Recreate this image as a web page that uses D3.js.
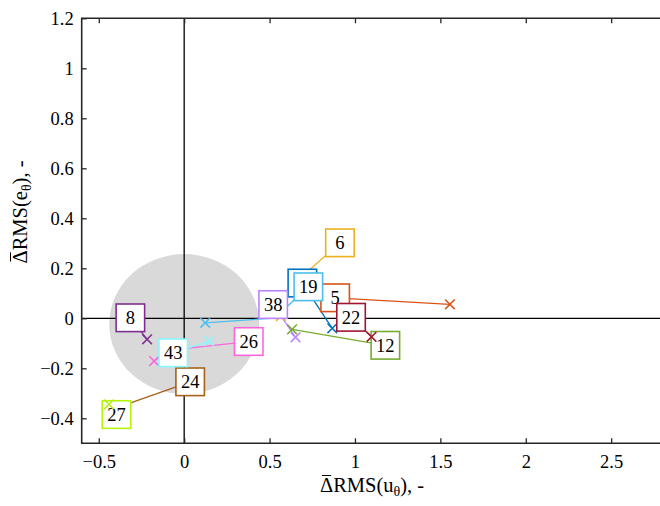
<!DOCTYPE html>
<html>
<head>
<meta charset="utf-8">
<script src="https://cdn.jsdelivr.net/npm/d3@7/dist/d3.min.js"></script>
<style>
  html, body { margin: 0; padding: 0; background: #fff; }
  svg { display: block; }
  svg text { font-family: "Liberation Serif", "DejaVu Serif", "Noto Serif", serif !important; fill: #000; }
</style>
</head>
<body>
<svg id="chart" width="660" height="506"></svg>
<script>
// Case numbers, drawn in ascending order
const ids = ["3", "5", "6", "8", "12", "19", "22", "24", "26", "27", "38", "43"];
const colors = ["#0072BD", "#D95319", "#EDB120", "#7E2F8E", "#77AC30", "#4DBEEE",
                "#A2142F", "#A6611A", "#FF66DD", "#B5F20D", "#B983FF", "#88F7FF"];

// Point positions (ΔRMS(uθ), ΔRMS(eθ))
const pointX = [0.867, 1.556, 0.566, -0.217, 0.632, 0.123, 1.097, -0.400, -0.176, -0.441, 0.652, 0.146];
const pointY = [-0.040, 0.056, 0.009, -0.084, -0.044, -0.018, -0.074, -0.359, -0.171, -0.344, -0.076, -0.091];

// Label anchor positions in data units
const labelX = [0.692, 0.884, 0.912, -0.315, 1.178, 0.727, 0.977, 0.035, 0.378, -0.396, 0.521, -0.064];
const labelY = [0.141, 0.082, 0.302, 0.002, -0.108, 0.126, 0.004, -0.254, -0.093, -0.385, 0.055, -0.138];

// Optional bend of a leader line (null = straight)
const bendX = [null, null, 0.607, null, null, 0.531, null, null, -0.084, null, null, null];
const bendY = [null, null, 0.117, null, null, 0.001, null, null, -0.127, null, null, null];

// Shaded region around the origin
const regionCenter = [0, -0.023];
const regionRadius = [0.439, 0.28];

// Axis ticks
const xTicks = [-0.5, 0, 0.5, 1, 1.5, 2, 2.5];
const yTicks = [-0.4, -0.2, 0, 0.2, 0.4, 0.6, 0.8, 1, 1.2];

const serif = "'Liberation Serif', 'DejaVu Serif', 'Noto Serif', serif";
const svg = d3.select("#chart");
const pLeft = 81.7, pRight = 662.4, pTop = 18.3, pBottom = 443.3;

const x = d3.scaleLinear().domain([-0.6, 2.8]).range([pLeft, pRight]);
const y = d3.scaleLinear().domain([-0.5, 1.2]).range([pBottom, pTop]);
const fmt = d3.format("~g");

const plot = svg.append("g");

// shaded ellipse
plot.append("ellipse")
  .attr("cx", x(regionCenter[0]))
  .attr("cy", y(regionCenter[1]))
  .attr("rx", x(regionRadius[0]) - x(0))
  .attr("ry", y(0) - y(regionRadius[1]))
  .attr("fill", "#d9d9d9");

// zero lines
plot.append("line")
  .attr("x1", x(0)).attr("x2", x(0)).attr("y1", pTop).attr("y2", pBottom)
  .attr("stroke", "#000").attr("stroke-width", 1.3);
plot.append("line")
  .attr("x1", pLeft).attr("x2", pRight).attr("y1", y(0)).attr("y2", y(0))
  .attr("stroke", "#000").attr("stroke-width", 1.3);

const items = ids.map((id, i) => ({
  id, color: colors[i],
  px: pointX[i], py: pointY[i],
  lx: labelX[i], ly: labelY[i],
  bx: bendX[i], by: bendY[i]
}));

// leader lines from each point to its label
const leader = d3.line().x(d => x(d[0])).y(d => y(d[1]));
plot.append("g").selectAll("path")
  .data(items)
  .join("path")
  .attr("d", d => {
    const pts = [[d.px, d.py]];
    if (d.bx !== null) pts.push([d.bx, d.by]);
    pts.push([d.lx, d.ly]);
    return leader(pts);
  })
  .attr("fill", "none")
  .attr("stroke", d => d.color)
  .attr("stroke-width", 1.3);

// label box then cross marker, case by case
const boxW = 28.5, boxH = 27.6, m = 4.8;
const g = plot.append("g").selectAll("g")
  .data(items)
  .join("g");

g.append("rect")
  .attr("x", d => x(d.lx) - boxW / 2)
  .attr("y", d => y(d.ly) - boxH / 2)
  .attr("width", boxW)
  .attr("height", boxH)
  .attr("fill", "#fff")
  .attr("stroke", d => d.color)
  .attr("stroke-width", 1.6);

g.append("text")
  .attr("x", d => x(d.lx))
  .attr("y", d => y(d.ly) + 6.3)
  .attr("text-anchor", "middle")
  .attr("font-family", serif)
  .attr("font-size", 18.5)
  .text(d => d.id);

g.append("path")
  .attr("d", d => {
    const cx = x(d.px), cy = y(d.py);
    return `M${cx - m},${cy - m}L${cx + m},${cy + m}M${cx - m},${cy + m}L${cx + m},${cy - m}`;
  })
  .attr("fill", "none")
  .attr("stroke", d => d.color)
  .attr("stroke-width", 1.5);

// axes frame with inward ticks
const axisColor = "#262626";
const bottomAxis = svg.append("g").attr("transform", `translate(0,${pBottom})`)
  .call(d3.axisBottom(x).tickValues(xTicks).tickFormat(fmt).tickSize(-5).tickPadding(12));
const topAxis = svg.append("g").attr("transform", `translate(0,${pTop})`)
  .call(d3.axisTop(x).tickValues(xTicks).tickFormat("").tickSize(-5));
const leftAxis = svg.append("g").attr("transform", `translate(${pLeft},0)`)
  .call(d3.axisLeft(y).tickValues(yTicks).tickFormat(fmt).tickSize(-5).tickPadding(8));

[bottomAxis, topAxis, leftAxis].forEach(a => {
  a.attr("font-family", serif);
  a.select(".domain").remove();
  a.selectAll(".tick line").attr("stroke", axisColor).attr("stroke-width", 1.3);
  a.selectAll(".tick text")
    .attr("font-family", serif)
    .attr("font-size", 18.5)
    .attr("fill", "#000");
});

svg.append("path")
  .attr("d", `M${pRight},${pTop}H${pLeft}V${pBottom}H${pRight}`)
  .attr("fill", "none")
  .attr("stroke", axisColor)
  .attr("stroke-width", 1.6);

// axis titles; the bar over Δ is drawn as a short stroke
function title(sel, sub) {
  sel.attr("font-family", serif).attr("font-size", 20.5);
  sel.append("tspan").attr("class", "delta").text("\u0394");
  sel.append("tspan").text("RMS(" + sub);
  sel.append("tspan").attr("dy", 4).attr("font-size", 14).text("\u03B8");
  sel.append("tspan").attr("dy", -4).text("), -");
}

const xt = svg.append("text")
  .attr("x", (pLeft + pRight) / 2)
  .attr("y", 492)
  .attr("text-anchor", "middle");
title(xt, "u");

const yt = svg.append("text")
  .attr("transform", "translate(27,212) rotate(-90)")
  .attr("text-anchor", "middle");
title(yt, "e");

// macron bars above each Δ
[xt, yt].forEach(t => {
  const d = t.select(".delta").node();
  const n = d.getNumberOfChars();
  const s = d.getStartPositionOfChar(0), e = d.getEndPositionOfChar(n - 1);
  const bar = svg.append("line")
    .attr("x1", s.x + 2).attr("x2", e.x - 2)
    .attr("y1", s.y - 16.5).attr("y2", s.y - 16.5)
    .attr("stroke", "#000").attr("stroke-width", 1);
  if (t === yt) bar.attr("transform", "translate(27,212) rotate(-90)");
});
</script>
</body>
</html>
